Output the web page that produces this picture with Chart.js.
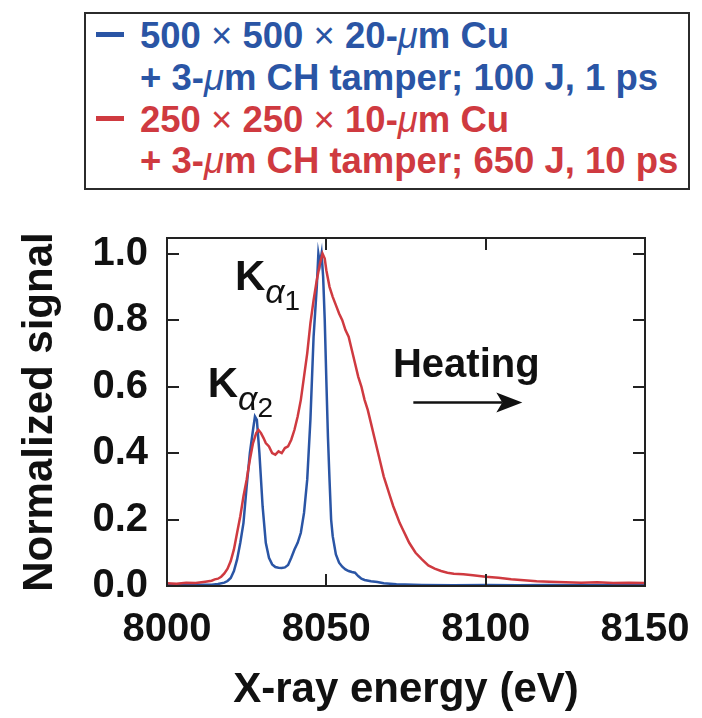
<!DOCTYPE html>
<html>
<head>
<meta charset="utf-8">
<script src="https://cdn.jsdelivr.net/npm/chart.js@4.4.1/dist/chart.umd.min.js"></script>
<style>
  html, body { margin: 0; padding: 0; background: #fff; }
  #wrap { position: relative; width: 702px; height: 718px; overflow: hidden; }
  #spectrum { position: absolute; left: 0; top: 0; }
  #legend {
    position: absolute; left: 84px; top: 12px; width: 606px; height: 178px;
    box-sizing: border-box; border: 2px solid #2b2b2b; background: #fff;
    font-family: "Liberation Sans", Arial, sans-serif; font-weight: bold; font-size: 36.5px;
  }
  #legend .row { position: absolute; left: 54px; white-space: nowrap; line-height: 42px; }
  #legend .x { font-weight: normal; }
  #legend i { font-weight: normal; }
  #legend .swatch { position: absolute; left: -44px; top: 17px; width: 28px; height: 5px; }
  .blue { color: #2a55a5; }
  .red { color: #cf3a40; }
</style>
</head>
<body>
<div id="wrap">
  <canvas id="spectrum" width="702" height="718"></canvas>
  <div id="legend">
    <div class="row blue" style="top:1px"><span class="swatch" style="background:#2a55a5"></span>500 <span class="x">×</span> 500 <span class="x">×</span> 20-<i>μ</i>m Cu</div>
    <div class="row blue" style="top:43px">+ 3-<i>μ</i>m CH tamper; 100 J, 1 ps</div>
    <div class="row red" style="top:85px"><span class="swatch" style="background:#cf3a40"></span>250 <span class="x">×</span> 250 <span class="x">×</span> 10-<i>μ</i>m Cu</div>
    <div class="row red" style="top:126px">+ 3-<i>μ</i>m CH tamper; 650 J, 10 ps</div>
  </div>
</div>
<script>
// Cu K-alpha spectra, normalized to the K-alpha-1 peak
const blueEnergy = [8000, 8005, 8010, 8014, 8016, 8018, 8019, 8020, 8021, 8022, 8023, 8024, 8025, 8026, 8027, 8027.6, 8028.2, 8029, 8030, 8031, 8032, 8033, 8034, 8035, 8036, 8037, 8038, 8039, 8040, 8041, 8042, 8043, 8044, 8045, 8046, 8047, 8047.5, 8048, 8048.5, 8049, 8049.5, 8050, 8050.5, 8051, 8051.5, 8052, 8053, 8054, 8055, 8056, 8057, 8058, 8059, 8060, 8061, 8062, 8064, 8066, 8068, 8072, 8080, 8090, 8100, 8110, 8120, 8130, 8140, 8150];
const blueSignal = [0.003, 0.002, 0.004, 0.004, 0.006, 0.010, 0.015, 0.024, 0.045, 0.080, 0.13, 0.19, 0.30, 0.40, 0.47, 0.51, 0.50, 0.40, 0.24, 0.13, 0.085, 0.065, 0.057, 0.055, 0.054, 0.056, 0.063, 0.085, 0.11, 0.13, 0.16, 0.22, 0.32, 0.50, 0.75, 0.90, 1.0, 0.97, 1.0, 0.93, 0.80, 0.62, 0.45, 0.32, 0.20, 0.15, 0.095, 0.07, 0.058, 0.05, 0.045, 0.042, 0.04, 0.03, 0.022, 0.018, 0.014, 0.012, 0.008, 0.005, 0.003, 0.002, 0.003, 0.002, 0.003, 0.002, 0.003, 0.002];

const redEnergy = [8000, 8003, 8006, 8009, 8012, 8014, 8015, 8016, 8017, 8018, 8019, 8020, 8021, 8022, 8023, 8024, 8025, 8026, 8027, 8028, 8028.7, 8029.5, 8030.3, 8031, 8032, 8033, 8034, 8035, 8036, 8037, 8038, 8039, 8040, 8041, 8042, 8043, 8044, 8045, 8046, 8047, 8048, 8048.8, 8049.5, 8050, 8051, 8052, 8053, 8054, 8055, 8056, 8057, 8058, 8059, 8060, 8061, 8062, 8063, 8064, 8065, 8066, 8067, 8068, 8069, 8070, 8071, 8072, 8073, 8074, 8075, 8076, 8077, 8078, 8080, 8082, 8084, 8086, 8088, 8090, 8093, 8096, 8100, 8104, 8108, 8112, 8116, 8120, 8125, 8130, 8135, 8140, 8145, 8150];
const redSignal = [0.008, 0.007, 0.010, 0.009, 0.013, 0.016, 0.020, 0.022, 0.028, 0.038, 0.052, 0.075, 0.11, 0.16, 0.21, 0.27, 0.32, 0.38, 0.43, 0.46, 0.47, 0.46, 0.445, 0.43, 0.42, 0.40, 0.395, 0.405, 0.40, 0.415, 0.42, 0.44, 0.47, 0.51, 0.56, 0.63, 0.70, 0.79, 0.86, 0.92, 0.97, 1.0, 0.985, 0.95, 0.90, 0.87, 0.845, 0.82, 0.80, 0.77, 0.75, 0.71, 0.67, 0.63, 0.60, 0.56, 0.53, 0.49, 0.45, 0.41, 0.37, 0.33, 0.30, 0.27, 0.24, 0.215, 0.19, 0.17, 0.15, 0.13, 0.115, 0.10, 0.08, 0.062, 0.052, 0.045, 0.040, 0.037, 0.035, 0.032, 0.028, 0.025, 0.020, 0.017, 0.014, 0.013, 0.011, 0.010, 0.011, 0.009, 0.010, 0.009];

const energyTicks = [8000, 8050, 8100, 8150];
const signalTicks = [0, 0.2, 0.4, 0.6, 0.8, 1.0];

const BLUE = "#2a55a5";
const RED = "#cf3a40";
const INK = "#111";
const FONT = '"Liberation Sans", Arial, sans-serif';

const toPoints = (xs, ys) => xs.map((x, i) => ({ x, y: ys[i] }));

// inward tick marks on all four sides plus the frame
const frameTicks = {
  id: "frameTicks",
  afterDatasetsDraw(chart) {
    const { ctx, chartArea: a, scales: { x, y } } = chart;
    const len = 12;
    ctx.save();
    ctx.strokeStyle = "#222";
    ctx.lineWidth = 2;
    ctx.beginPath();
    energyTicks.forEach(v => {
      const px = Math.round(x.getPixelForValue(v));
      ctx.moveTo(px, a.bottom); ctx.lineTo(px, a.bottom - len);
      ctx.moveTo(px, a.top); ctx.lineTo(px, a.top + len);
    });
    signalTicks.forEach(v => {
      const py = Math.round(y.getPixelForValue(v));
      ctx.moveTo(a.left, py); ctx.lineTo(a.left + len, py);
      ctx.moveTo(a.right, py); ctx.lineTo(a.right - len, py);
    });
    ctx.stroke();
    ctx.strokeRect(a.left, a.top, a.right - a.left, a.bottom - a.top);
    ctx.restore();
  }
};

// peak labels and the heating arrow
const annotations = {
  id: "annotations",
  afterDraw(chart) {
    const { ctx, scales: { x, y } } = chart;
    ctx.save();
    ctx.fillStyle = INK;
    ctx.textBaseline = "alphabetic";

    const kLabel = (e, v, sub) => {
      const px = x.getPixelForValue(e), py = y.getPixelForValue(v);
      ctx.font = `bold 42px ${FONT}`;
      ctx.fillText("K", px, py);
      const kw = ctx.measureText("K").width;
      ctx.font = `italic 34px ${FONT}`;
      ctx.fillText("α", px + kw, py + 13);
      const aw = ctx.measureText("α").width;
      ctx.font = `28px ${FONT}`;
      ctx.fillText(sub, px + kw + aw, py + 20);
    };
    kLabel(8021.3, 0.89, "1");
    kLabel(8012.8, 0.568, "2");

    ctx.font = `bold 40px ${FONT}`;
    const hx = x.getPixelForValue(8070.9), hy = y.getPixelForValue(0.63);
    ctx.fillText("Heating", hx, hy);

    const ax0 = x.getPixelForValue(8077.3), ax1 = x.getPixelForValue(8111.5);
    const ay = y.getPixelForValue(0.552);
    ctx.strokeStyle = INK;
    ctx.lineWidth = 2.5;
    ctx.beginPath();
    ctx.moveTo(ax0, ay); ctx.lineTo(ax1 - 20, ay);
    ctx.stroke();
    ctx.beginPath();
    ctx.moveTo(ax1, ay);
    ctx.lineTo(ax1 - 26, ay - 10);
    ctx.lineTo(ax1 - 20, ay);
    ctx.lineTo(ax1 - 26, ay + 10);
    ctx.closePath();
    ctx.fill();
    ctx.restore();
  }
};

// pin the plot frame: no extra room for overhanging end labels
const noOverhang = s => { s.paddingLeft = 0; s.paddingRight = 0; s.paddingTop = 0; s.paddingBottom = 0; };

new Chart(document.getElementById("spectrum"), {
  type: "line",
  data: {
    datasets: [
      {
        label: "500 × 500 × 20-μm Cu",
        data: toPoints(blueEnergy, blueSignal),
        borderColor: BLUE,
        order: 1
      },
      {
        label: "250 × 250 × 10-μm Cu",
        data: toPoints(redEnergy, redSignal),
        borderColor: RED,
        order: 0
      }
    ]
  },
  options: {
    responsive: false,
    animation: false,
    devicePixelRatio: 1,
    parsing: false,
    elements: { point: { radius: 0 }, line: { borderWidth: 2.5, tension: 0 } },
    layout: { padding: { left: 0, top: 238, right: 57, bottom: 0 } },
    plugins: { legend: { display: false }, tooltip: { enabled: false } },
    scales: {
      x: {
        type: "linear",
        min: 8000, max: 8150,
        afterFit: s => { s.height = 132; noOverhang(s); },
        afterBuildTicks: s => { s.ticks = energyTicks.map(value => ({ value })); },
        grid: { display: false, drawTicks: false },
        border: { display: false },
        ticks: {
          color: INK, padding: 24,
          font: { family: FONT, size: 40, weight: "bold", lineHeight: 1 },
          callback: v => String(v),
          maxRotation: 0
        },
        title: {
          display: true, text: "X-ray energy (eV)", color: INK,
          font: { family: FONT, size: 42, weight: "bold", lineHeight: 1 },
          padding: { top: 0, bottom: 7 }
        }
      },
      y: {
        min: 0, max: 1.047,
        afterFit: s => { s.width = 167; noOverhang(s); },
        afterBuildTicks: s => { s.ticks = signalTicks.map(value => ({ value })); },
        grid: { display: false, drawTicks: false },
        border: { display: false },
        ticks: {
          color: INK, padding: 19,
          font: { family: FONT, size: 40, weight: "bold", lineHeight: 1 },
          callback: v => Number(v).toFixed(1)
        },
        title: {
          display: true, text: "Normalized signal", color: INK,
          font: { family: FONT, size: 42, weight: "bold", lineHeight: 1 },
          padding: { top: 19, bottom: 0 }
        }
      }
    }
  },
  plugins: [frameTicks, annotations]
});
</script>
</body>
</html>
